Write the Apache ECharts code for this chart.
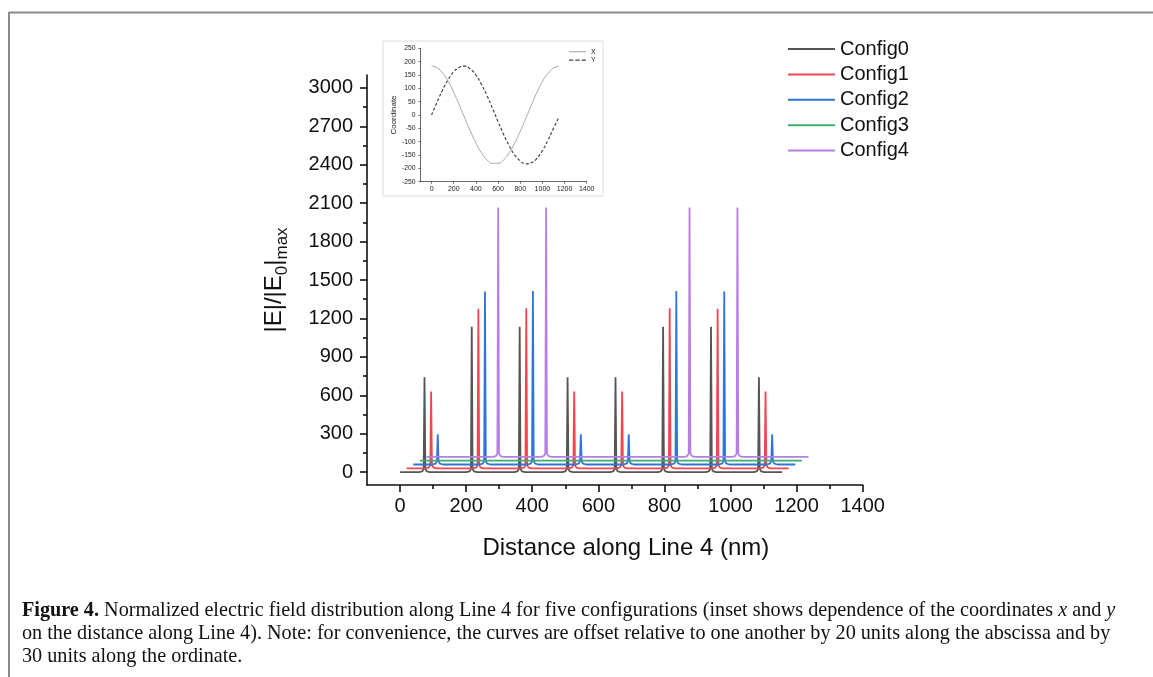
<!DOCTYPE html>
<html><head><meta charset="utf-8">
<script src="https://cdn.jsdelivr.net/npm/echarts@6/dist/echarts.min.js"></script>
<style>html,body{margin:0;padding:0;background:#fff}#c{width:1153px;height:677px}</style>
</head><body><div id="c"></div>
<script>
// ---------- data ----------
const seriesNames = ['Config0', 'Config1', 'Config2', 'Config3', 'Config4'];

// peak positions (nm) and peak heights (incl. offset)
const config0PeakX = [74, 217, 362, 507, 652, 796, 941, 1086];
const config0PeakY = [740, 1135, 1135, 740, 740, 1135, 1135, 740];
const config1PeakX = [94, 237, 382, 527, 672, 816, 961, 1106];
const config1PeakY = [630, 1275, 1280, 630, 630, 1280, 1275, 630];
const config2PeakX = [114, 257, 402, 547, 692, 836, 981, 1126];
const config2PeakY = [295, 1410, 1415, 295, 295, 1415, 1410, 295];
const config3PeakX = [];
const config3PeakY = [];
const config4PeakX = [297, 442, 876, 1021];
const config4PeakY = [2065, 2065, 2065, 2065];

// baselines (ordinate offset) and start / end of each curve
const baselines = [0, 30, 60, 90, 120];
const curveStart = [0, 20, 40, 60, 80];
const curveEnd = [1156, 1176, 1196, 1216, 1236];

// shape of a peak foot (offset along abscissa, rise above baseline; null = peak top)
const peakFootDx = [-16, -7, -2.5, 0, 2.5, 7, 16];
const peakFootRise = [0, 6, 25, null, 25, 6, 0];

// inset: coordinates x and y vs distance along Line 4
const insetDistance = [0, 50, 100, 150, 200, 250, 300, 350, 400, 450, 500, 550, 600, 650, 700, 750, 800, 850, 900, 950, 1000, 1050, 1100, 1150];
const insetX = [183, 177, 157, 126, 85, 38, -12, -60, -105, -142, -168, -181, -181, -168, -142, -106, -61, -13, 36, 84, 125, 156, 176, 183];
const insetY = [0, 49, 94, 133, 162, 179, 183, 172, 150, 115, 73, 25, -25, -73, -115, -150, -172, -183, -179, -163, -134, -95, -50, -8];

// tick labels
const mainXTicks = [0, 200, 400, 600, 800, 1000, 1200, 1400];
const mainXMinor = [100, 300, 500, 700, 900, 1100, 1300];
const mainYTicks = [0, 300, 600, 900, 1200, 1500, 1800, 2100, 2400, 2700, 3000];
const mainYMinor = [150, 450, 750, 1050, 1350, 1650, 1950, 2250, 2550, 2850];
const insetXTicks = [0, 200, 400, 600, 800, 1000, 1200, 1400];

// ---------- styles ----------
const colors = ['#555555', '#f0474c', '#2f74d8', '#3cae6c', '#b67ee6'];
const sans = 'Liberation Sans, Arial, sans-serif';
const serif = 'Liberation Serif, Times New Roman, serif';
const capSize = 20.2;
const plain = v => String(v);

function buildCurve(i, peakX, peakY) {
  const b = baselines[i];
  const pts = [[curveStart[i], b]];
  for (let p = 0; p < peakX.length; p++) {
    for (let k = 0; k < peakFootDx.length; k++) {
      const r = peakFootRise[k];
      pts.push([peakX[p] + peakFootDx[k], r === null ? peakY[p] : b + r]);
    }
  }
  pts.push([curveEnd[i], b]);
  return pts;
}
const peaksX = [config0PeakX, config1PeakX, config2PeakX, config3PeakX, config4PeakX];
const peaksY = [config0PeakY, config1PeakY, config2PeakY, config3PeakY, config4PeakY];

const mainSeries = seriesNames.map((n, i) => ({
  name: n, type: 'line', xAxisIndex: 0, yAxisIndex: 0,
  symbol: 'none', showSymbol: false, z: 2 + i,
  lineStyle: { color: colors[i], width: 1.8 }, itemStyle: { color: colors[i] },
  data: buildCurve(i, peaksX[i], peaksY[i])
}));

const chart = echarts.init(document.getElementById('c'));
const axisLineStyle = { color: '#111', width: 1.6 };
const insetLine = { color: '#444', width: 0.8 };

chart.setOption({
  animation: false,
  backgroundColor: '#fff',
  grid: [
    { left: 367, top: 75, width: 495.7, height: 410, outerBoundsMode: 'none', containLabel: false },
    { left: 420.5, top: 48.3, width: 166.2, height: 133.4, outerBoundsMode: 'none', containLabel: false }
  ],
  xAxis: [
    {
      type: 'value', gridIndex: 0, min: -100, max: 1400, position: 'bottom',
      axisLine: { onZero: false, lineStyle: axisLineStyle },
      axisTick: { customValues: mainXTicks, length: 7, lineStyle: axisLineStyle },
      axisLabel: { customValues: mainXTicks, formatter: plain, fontSize: 20, fontFamily: sans, color: '#111', margin: 11 },
      splitLine: { show: false },
      name: 'Distance along Line 4 (nm)', nameLocation: 'middle', nameGap: 51,
      nameTextStyle: { fontSize: 24, fontFamily: sans, color: '#111', padding: [0, 0, 0, 22] }
    },
    {
      type: 'value', gridIndex: 0, min: -100, max: 1400, position: 'bottom', offset: 0,
      axisLine: { show: false, onZero: false },
      axisTick: { customValues: mainXMinor, length: 4, lineStyle: axisLineStyle },
      axisLabel: { show: false }, splitLine: { show: false }
    },
    {
      type: 'value', gridIndex: 1, min: -100, max: 1400, position: 'bottom',
      axisLine: { onZero: false, lineStyle: insetLine },
      axisTick: { customValues: insetXTicks, length: 2, lineStyle: insetLine },
      axisLabel: { customValues: insetXTicks, formatter: plain, fontSize: 7, fontFamily: sans, color: '#222', margin: 4 },
      splitLine: { show: false }
    }
  ],
  yAxis: [
    {
      type: 'value', gridIndex: 0, min: -100, max: 3100, position: 'left',
      axisLine: { onZero: false, lineStyle: axisLineStyle },
      axisTick: { customValues: mainYTicks, length: 7, lineStyle: axisLineStyle },
      axisLabel: { customValues: mainYTicks, formatter: plain, fontSize: 20, fontFamily: sans, color: '#111', margin: 14 },
      splitLine: { show: false },
      name: '{n||E|/|E}{s|0}{n||}{s|max}', nameLocation: 'middle', nameRotate: 90, nameGap: 76,
      nameTextStyle: {
        fontFamily: sans, color: '#111',
        rich: {
          n: { fontSize: 24, fontFamily: sans, color: '#111', lineHeight: 24, verticalAlign: 'top' },
          s: { fontSize: 17, fontFamily: sans, color: '#111', padding: [12, 0, 0, 0], verticalAlign: 'bottom' }
        }
      }
    },
    {
      type: 'value', gridIndex: 0, min: -100, max: 3100, position: 'left', offset: 0,
      axisLine: { show: false, onZero: false },
      axisTick: { customValues: mainYMinor, length: 4, lineStyle: axisLineStyle },
      axisLabel: { show: false }, splitLine: { show: false }
    },
    {
      type: 'value', gridIndex: 1, min: -250, max: 250, interval: 50, position: 'left',
      axisLine: { onZero: false, lineStyle: insetLine },
      axisTick: { length: 2, lineStyle: insetLine },
      axisLabel: { formatter: plain, fontSize: 6.8, fontFamily: sans, color: '#222', margin: 5 },
      splitLine: { show: false },
      name: 'Coordinate', nameLocation: 'middle', nameRotate: 90, nameGap: 22,
      nameTextStyle: { fontSize: 8, fontFamily: sans, color: '#222' }
    }
  ],
  legend: [
    {
      data: seriesNames, orient: 'vertical', left: 788, top: 39, padding: 0,
      icon: 'rect', itemWidth: 47, itemHeight: 2, itemGap: 5.4, selectedMode: false,
      textStyle: { fontSize: 20, fontFamily: sans, color: '#111', lineHeight: 20 }
    },
    {
      data: [
        { name: 'X', icon: 'rect' },
        { name: 'Y', icon: 'path://M0,0h4v1h-4zM6,0h4v1h-4zM12,0h4v1h-4z' }
      ],
      orient: 'vertical', left: 569, top: 47.7, padding: 0,
      itemWidth: 17, itemHeight: 1.1, itemGap: 0.4, selectedMode: false,
      textStyle: { fontSize: 7, fontFamily: sans, color: '#222', lineHeight: 8 }
    }
  ],
  graphic: [
    { type: 'line', shape: { x1: 9, y1: 12.5, x2: 1153, y2: 12.5 }, style: { stroke: '#8a8a8a', lineWidth: 2 }, silent: true },
    { type: 'line', shape: { x1: 9, y1: 12, x2: 9, y2: 677 }, style: { stroke: '#8a8a8a', lineWidth: 2 }, silent: true },
    { type: 'rect', shape: { x: 383, y: 41, width: 220, height: 155 }, style: { stroke: '#dcdcdc', fill: 'none', lineWidth: 1 }, z: -1, silent: true },
    {
      type: 'text', left: 22, top: 601, silent: true,
      style: {
        text: '{b|Figure 4.}{n| Normalized electric field distribution along Line 4 for five configurations (inset shows dependence of the coordinates }{i|x}{n| and }{i|y}',
        rich: {
          b: { fontFamily: serif, fontSize: capSize, fontWeight: 'bold', fill: '#111' },
          n: { fontFamily: serif, fontSize: capSize, fill: '#111' },
          i: { fontFamily: serif, fontSize: capSize, fontStyle: 'italic', fill: '#111' }
        }
      }
    },
    {
      type: 'text', left: 22, top: 624, silent: true,
      style: { text: 'on the distance along Line 4). Note: for convenience, the curves are offset relative to one another by 20 units along the abscissa and by', fontFamily: serif, fontSize: capSize, fill: '#111' }
    },
    {
      type: 'text', left: 22, top: 647, silent: true,
      style: { text: '30 units along the ordinate.', fontFamily: serif, fontSize: capSize, fill: '#111' }
    }
  ],
  series: mainSeries.concat([
    {
      name: 'X', type: 'line', xAxisIndex: 2, yAxisIndex: 2, symbol: 'none', smooth: true,
      lineStyle: { color: '#a8a8a8', width: 1 }, itemStyle: { color: '#a8a8a8' },
      data: insetDistance.map((d, i) => [d, insetX[i]])
    },
    {
      name: 'Y', type: 'line', xAxisIndex: 2, yAxisIndex: 2, symbol: 'none', smooth: true,
      lineStyle: { color: '#444', width: 1.2, type: [3, 2] }, itemStyle: { color: '#444' },
      data: insetDistance.map((d, i) => [d, insetY[i]])
    }
  ])
});
</script>
</body></html>
